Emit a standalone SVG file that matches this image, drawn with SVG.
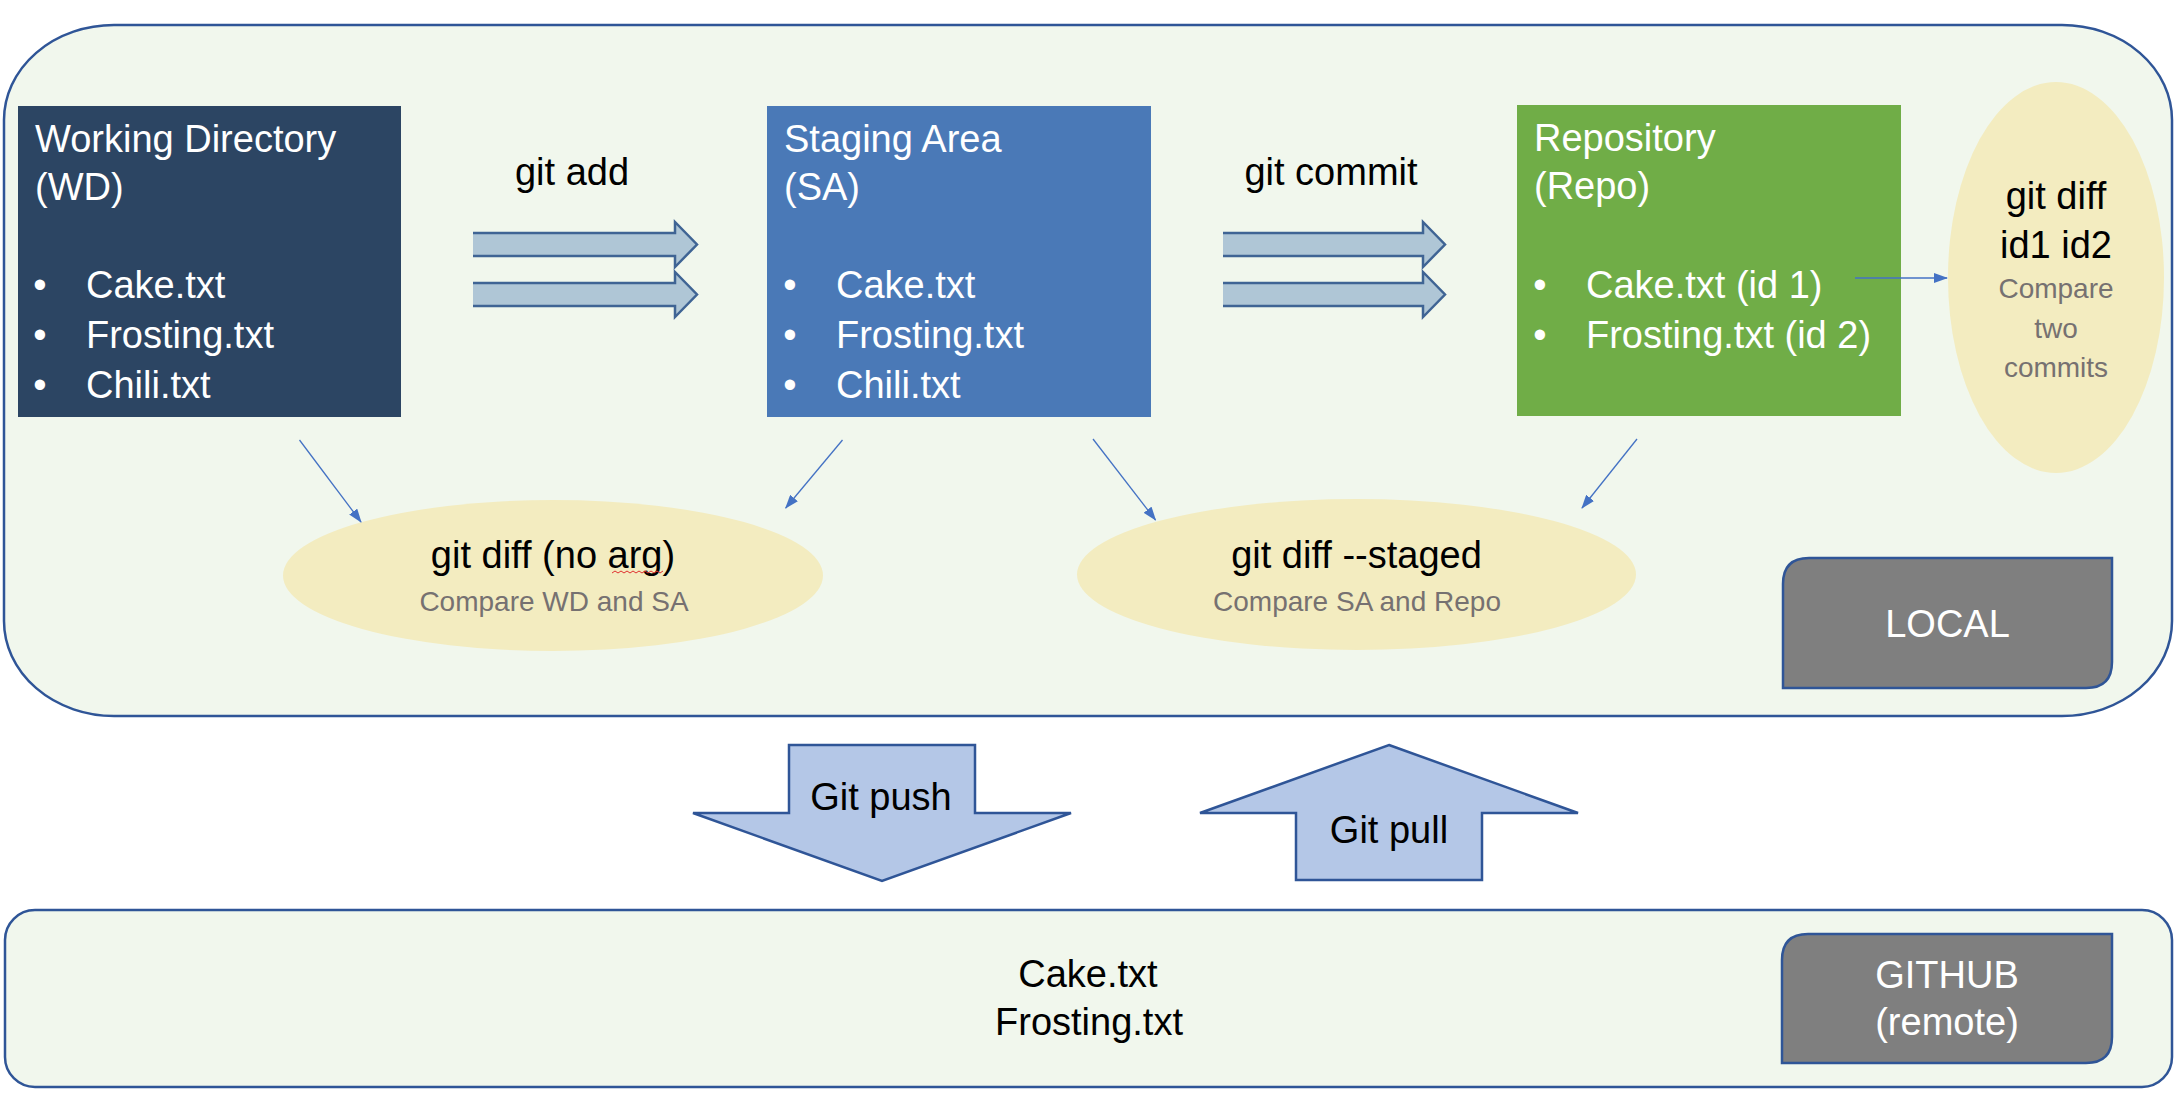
<svg xmlns="http://www.w3.org/2000/svg" width="2183" height="1101" viewBox="0 0 2183 1101">
<style>
text{font-family:"Liberation Sans",Arial,sans-serif;}
.container{fill:#F1F7ED;stroke:#2F5597;stroke-width:2.5;}
.w{fill:#FFFFFF;font-size:38px;}
.b{fill:#000000;font-size:38px;}
.g{fill:#767171;font-size:28px;}
.ell{fill:#F3ECC0;}
.tag{fill:#7F7F7F;stroke:#2F5597;stroke-width:2.5;}
.fat{fill:#AFC6D6;}
.fatline{fill:none;stroke:#3F6494;stroke-width:2.5;}
.big{fill:#B4C7E7;stroke:#2F5597;stroke-width:2.5;}
.conn{fill:none;stroke:#4472C4;stroke-width:1.3;marker-end:url(#ah);}
</style>
<defs>
<marker id="ah" markerUnits="userSpaceOnUse" markerWidth="14" markerHeight="10" refX="13" refY="5" orient="auto">
<path d="M0,0 L14,5 L0,10 Z" fill="#4472C4"/>
</marker>
</defs>
<rect width="2183" height="1101" fill="#FFFFFF"/>

<g id="local-container">
<rect class="container" x="4" y="25" width="2168" height="691" rx="110" ry="95"/>
</g>

<g id="github-container">
<rect class="container" x="5" y="910" width="2167" height="177" rx="30" ry="30"/>
</g>

<g id="working-directory">
<rect x="18" y="106" width="383" height="311" fill="#2C4563"/>
<text class="w" x="35" y="152">Working Directory</text>
<text class="w" x="35" y="200">(WD)</text>
<text class="w" x="40" y="298" text-anchor="middle">•</text>
<text class="w" x="86" y="298">Cake.txt</text>
<text class="w" x="40" y="348" text-anchor="middle">•</text>
<text class="w" x="86" y="348">Frosting.txt</text>
<text class="w" x="40" y="398" text-anchor="middle">•</text>
<text class="w" x="86" y="398">Chili.txt</text>
</g>

<g id="staging-area">
<rect x="767" y="106" width="384" height="311" fill="#4A79B7"/>
<text class="w" x="784" y="152">Staging Area</text>
<text class="w" x="784" y="200">(SA)</text>
<text class="w" x="790" y="298" text-anchor="middle">•</text>
<text class="w" x="836" y="298">Cake.txt</text>
<text class="w" x="790" y="348" text-anchor="middle">•</text>
<text class="w" x="836" y="348">Frosting.txt</text>
<text class="w" x="790" y="398" text-anchor="middle">•</text>
<text class="w" x="836" y="398">Chili.txt</text>
</g>

<g id="repository">
<rect x="1517" y="105" width="384" height="311" fill="#70AD47"/>
<text class="w" x="1534" y="151">Repository</text>
<text class="w" x="1534" y="199">(Repo)</text>
<text class="w" x="1540" y="298" text-anchor="middle">•</text>
<text class="w" x="1586" y="298">Cake.txt (id 1)</text>
<text class="w" x="1540" y="348" text-anchor="middle">•</text>
<text class="w" x="1586" y="348">Frosting.txt (id 2)</text>
</g>

<g id="git-add">
<text class="b" x="572" y="185" text-anchor="middle">git add</text>
<path class="fat" d="M473,233 L675,233 L675,222 L697,244.5 L675,267 L675,256 L473,256 Z"/>
<path class="fatline" d="M473,233 L675,233 L675,222 L697,244.5 L675,267 L675,256 L473,256"/>
<path class="fat" d="M473,283 L675,283 L675,272 L697,294.5 L675,317 L675,306 L473,306 Z"/>
<path class="fatline" d="M473,283 L675,283 L675,272 L697,294.5 L675,317 L675,306 L473,306"/>
</g>

<g id="git-commit">
<text class="b" x="1331" y="185" text-anchor="middle">git commit</text>
<path class="fat" d="M1223,233 L1423,233 L1423,222 L1445,244.5 L1423,267 L1423,256 L1223,256 Z"/>
<path class="fatline" d="M1223,233 L1423,233 L1423,222 L1445,244.5 L1423,267 L1423,256 L1223,256"/>
<path class="fat" d="M1223,283 L1423,283 L1423,272 L1445,294.5 L1423,317 L1423,306 L1223,306 Z"/>
<path class="fatline" d="M1223,283 L1423,283 L1423,272 L1445,294.5 L1423,317 L1423,306 L1223,306"/>
</g>

<g id="diff-ids">
<ellipse class="ell" cx="2056" cy="277.5" rx="108" ry="195.5"/>
<text class="b" x="2056" y="209" text-anchor="middle">git diff</text>
<text class="b" x="2056" y="258" text-anchor="middle">id1 id2</text>
<text class="g" x="2056" y="298" text-anchor="middle">Compare</text>
<text class="g" x="2056" y="338" text-anchor="middle">two</text>
<text class="g" x="2056" y="377" text-anchor="middle">commits</text>
</g>

<g id="diff-no-arg">
<ellipse class="ell" cx="553" cy="575.5" rx="270" ry="75.5"/>
<text class="b" x="553" y="568" text-anchor="middle">git diff (no arg)</text>
<path d="M612,573 l3,-2 l3,2 l3,-2 l3,2 l3,-2 l3,2 l3,-2 l3,2 l3,-2 l3,2 l3,-2 l3,2 l3,-2 l3,2 l3,-2 l3,2 l3,-2" fill="none" stroke="#E03030" stroke-width="1"/>
<text class="g" x="554" y="611" text-anchor="middle">Compare WD and SA</text>
</g>

<g id="diff-staged">
<ellipse class="ell" cx="1356.5" cy="574.5" rx="279.5" ry="75.5"/>
<text class="b" x="1356.5" y="568" text-anchor="middle">git diff --staged</text>
<text class="g" x="1357" y="611" text-anchor="middle">Compare SA and Repo</text>
</g>

<g id="local-label">
<path class="tag" d="M1809,558 L2112,558 L2112,662 Q2112,688 2086,688 L1783,688 L1783,584 Q1783,558 1809,558 Z"/>
<text class="w" x="1947.5" y="637" text-anchor="middle">LOCAL</text>
</g>

<g id="github-label">
<path class="tag" d="M1808,934 L2112,934 L2112,1037 Q2112,1063 2086,1063 L1782,1063 L1782,960 Q1782,934 1808,934 Z"/>
<text class="w" x="1947" y="988" text-anchor="middle">GITHUB</text>
<text class="w" x="1947" y="1035" text-anchor="middle">(remote)</text>
</g>

<g id="github-files">
<text class="b" x="1088" y="987" text-anchor="middle">Cake.txt</text>
<text class="b" x="1089" y="1035" text-anchor="middle">Frosting.txt</text>
</g>

<g id="git-push">
<path class="big" d="M789,745 L975,745 L975,813 L1071,813 L882,881 L693,813 L789,813 Z"/>
<text class="b" x="881" y="810" text-anchor="middle">Git push</text>
</g>

<g id="git-pull">
<path class="big" d="M1389,745 L1578,813 L1482,813 L1482,880 L1296,880 L1296,813 L1200,813 Z"/>
<text class="b" x="1389" y="843" text-anchor="middle">Git pull</text>
</g>

<g id="connectors">
<line class="conn" x1="299.5" y1="440" x2="361" y2="522"/>
<line class="conn" x1="842.5" y1="440" x2="785.7" y2="508"/>
<line class="conn" x1="1093" y1="439" x2="1155.5" y2="520"/>
<line class="conn" x1="1637" y1="439" x2="1582" y2="508"/>
<line class="conn" x1="1855" y1="278" x2="1947" y2="278"/>
</g>
</svg>
